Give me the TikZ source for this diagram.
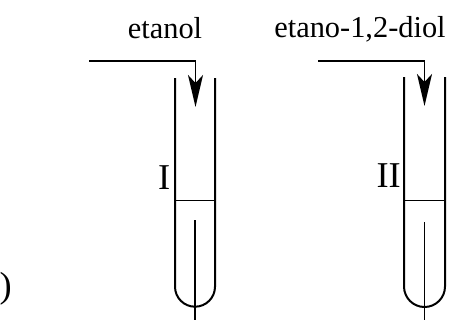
\documentclass[tikz,border=0pt]{standalone}
\usepackage{fontspec}
\setmainfont{Liberation Serif}
\usetikzlibrary{arrows.meta}
\tikzset{
  wall/.style={line width=2bp, line join=round},
  liquid/.style={line width=1.2bp},
  rod/.style={line width=1.8bp},
  feed/.style={line width=1.8bp, line join=miter, -{Stealth[length=32bp,width=15bp,inset=8bp]}},
  lbl/.style={inner sep=0pt, font=\fontsize{30.5}{33}\selectfont},
  num/.style={inner sep=0pt, font=\fontsize{36.5}{40}\selectfont}
}
\begin{document}
\begin{tikzpicture}[x=1bp,y=1bp]
\useasboundingbox (0,0) rectangle (454,320);
% tube I
\draw[wall] (175,242) -- (175,33.3) arc (180:360:20) -- (215,242);
\draw[liquid] (175,119.5) -- (215,119.5);
\draw[rod] (195,100) -- (195,0);
\coordinate (s1) at (89,259);
\coordinate (c1) at (195.5,259);
\coordinate (t1) at (195.5,213);
\draw[feed] (s1) -- (c1) -- (t1);
\node[lbl, anchor=base] (etanol) at (165,282) {etanol};
\node[num, anchor=base east] (lI) at (170.5,131) {I};
% tube II
\draw[wall] (404,243) -- (404,33.5) arc (180:360:20.5) -- (445,243);
\draw[liquid] (404,119.5) -- (445,119.5);
\draw[rod] (424.5,98) -- (424.5,0);
\coordinate (s2) at (318,259);
\coordinate (c2) at (424.5,259);
\coordinate (t2) at (424.5,214);
\draw[feed] (s2) -- (c2) -- (t2);
\node[lbl, anchor=base] (diol) at (360,283) {etano-1,2-diol};
\node[num, anchor=base east] (lII) at (401,133) {II};
% cropped label at left
\node[num, anchor=base west] (paren) at (-0.5,23) {)};
\end{tikzpicture}
\end{document}
